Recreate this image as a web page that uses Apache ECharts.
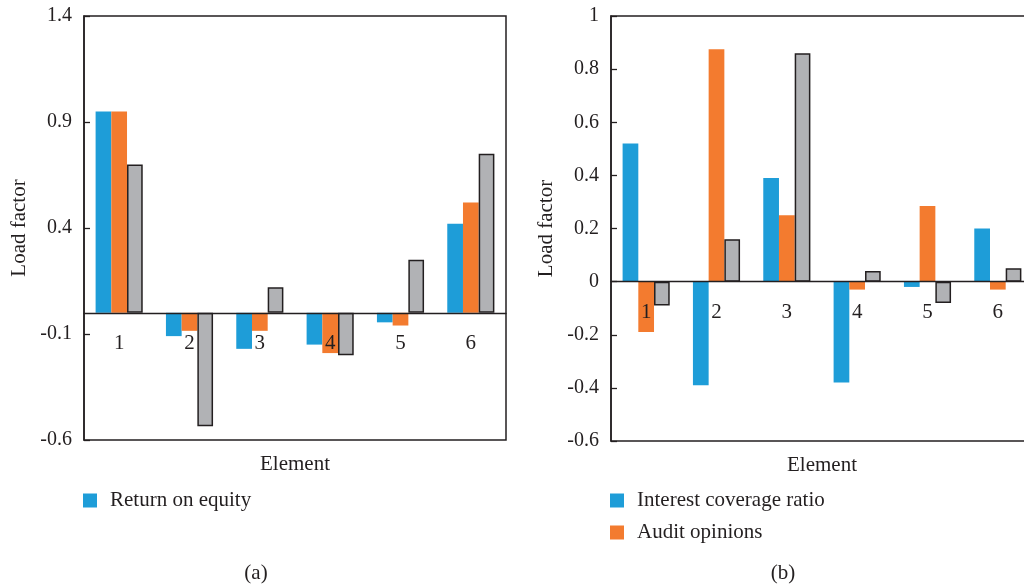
<!DOCTYPE html>
<html>
<head>
<meta charset="utf-8">
<script src="https://cdn.jsdelivr.net/npm/echarts@6/dist/echarts.min.js"></script>
<style>
html,body{margin:0;padding:0;background:#fff;}
#c{width:1024px;height:588px;}
</style>
</head>
<body>
<div id="c"></div>
<script>
// ---- data ----
const categories = ['1', '2', '3', '4', '5', '6'];

// chart (a)
const aNames = ['Return on equity', 'Indicator 2', 'Indicator 3'];
const aSeries1 = [0.95, -0.11, -0.17, -0.15, -0.045, 0.42];
const aSeries2 = [0.95, -0.085, -0.085, -0.19, -0.06, 0.52];
const aSeries3 = [0.70, -0.535, 0.12, -0.20, 0.25, 0.75];
const aTickLabels = ['-0.6', '-0.1', '0.4', '0.9', '1.4'];

// chart (b)
const bNames = ['Interest coverage ratio', 'Audit opinions', 'Indicator 3'];
const bSeries1 = [0.52, -0.39, 0.39, -0.38, -0.02, 0.20];
const bSeries2 = [-0.19, 0.875, 0.25, -0.03, 0.285, -0.03];
const bSeries3 = [-0.09, 0.16, 0.86, 0.04, -0.08, 0.05];
const bTickLabels = ['-0.6', '-0.4', '-0.2', '0', '0.2', '0.4', '0.6', '0.8', '1'];

// ---- style ----
const FONT = 'Liberation Serif';
const INK = '#231f20';
const BLUE = '#1e9dd8';
const ORANGE = '#f37b2f';
const GRAY = '#b1b2b5';

// grid geometry
const GA = {left: 84, top: 16, width: 422, height: 424};
const GB = {left: 611, top: 16, width: 422, height: 425};
const aMin = -0.6, aMax = 1.4, bMin = -0.6, bMax = 1;
// move the category axis up to the zero line
const aZeroOffset = -GA.height * (0 - aMin) / (aMax - aMin);
const bZeroOffset = -GB.height * (0 - bMin) / (bMax - bMin);

function barSeries(name, data, color, axisIdx, border) {
  return {
    type: 'bar', name: name, data: data,
    xAxisIndex: axisIdx, yAxisIndex: axisIdx === 0 ? 0 : 2,
    barGap: '0%', barCategoryGap: '33%',
    itemStyle: border ? {color: color, borderColor: INK, borderWidth: 1.5} : {color: color},
    emphasis: {disabled: true}
  };
}

const chart = echarts.init(document.getElementById('c'), null, {renderer: 'canvas'});
const axisText = {fontFamily: FONT, fontSize: 20, color: INK};

function catAxis(gi, offset, nameGap) {
  return {
    type: 'category', gridIndex: gi, data: categories, z: 10, position: 'bottom', offset: offset,
    axisLine: {onZero: false, lineStyle: {color: INK, width: 1.3}},
    axisTick: {inside: true, length: 7, lineStyle: {color: INK, width: 1.3}},
    axisLabel: {margin: 20, fontSize: 21, fontFamily: FONT, color: INK},
    name: 'Element', nameLocation: 'middle', nameGap: nameGap,
    nameTextStyle: {fontFamily: FONT, fontSize: 21, color: INK},
    splitLine: {show: false}
  };
}

chart.setOption({
  animation: false,
  textStyle: {fontFamily: FONT, color: INK},
  grid: [
    Object.assign({show: true, borderColor: INK, borderWidth: 1.5, containLabel: false, outerBoundsMode: 'none'}, GA),
    Object.assign({show: true, borderColor: INK, borderWidth: 1.5, containLabel: false, outerBoundsMode: 'none'}, GB)
  ],
  legend: [
    {data: [aNames[0]], left: 83, top: 490, padding: 0, icon: 'rect', itemWidth: 14, itemHeight: 14,
     textStyle: {fontFamily: FONT, fontSize: 21, color: INK, padding: [0, 0, 0, 8]}},
    {data: [bNames[0], bNames[1]], left: 610, top: 490, padding: 0, orient: 'vertical', icon: 'rect', itemWidth: 14, itemHeight: 14, itemGap: 11,
     textStyle: {fontFamily: FONT, fontSize: 21, color: INK, padding: [0, 0, 0, 8]}}
  ],
  xAxis: [
    catAxis(0, aZeroOffset, 141),
    catAxis(1, bZeroOffset, 173)
  ],
  yAxis: [
    // 0: data axis for (a)
    {type: 'value', gridIndex: 0, min: aMin, max: aMax, show: false},
    // 1: label axis for (a), shifted by 0.6 so the ticks land on the labels
    {type: 'value', gridIndex: 0, min: 0, max: 2, interval: 0.5, position: 'left', z: 10,
     axisLine: {show: true, onZero: false, lineStyle: {color: INK, width: 1.5}},
     axisTick: {show: true, inside: true, length: 6, lineStyle: {color: INK, width: 1.3}},
     axisLabel: Object.assign({margin: 12, formatter: v => aTickLabels[Math.round(v / 0.5)]}, axisText),
     splitLine: {show: false},
     name: 'Load factor', nameLocation: 'middle', nameGap: 54,
     nameTextStyle: {fontFamily: FONT, fontSize: 21, color: INK}},
    // 2: data + label axis for (b)
    {type: 'value', gridIndex: 1, min: bMin, max: bMax, interval: 0.2, position: 'left', z: 10,
     axisLine: {show: true, onZero: false, lineStyle: {color: INK, width: 1.5}},
     axisTick: {show: true, inside: true, length: 6, lineStyle: {color: INK, width: 1.3}},
     axisLabel: Object.assign({margin: 12, formatter: v => bTickLabels[Math.round((v - bMin) / 0.2)]}, axisText),
     splitLine: {show: false},
     name: 'Load factor', nameLocation: 'middle', nameGap: 54,
     nameTextStyle: {fontFamily: FONT, fontSize: 21, color: INK}}
  ],
  series: [
    barSeries(aNames[0], aSeries1, BLUE, 0, false),
    barSeries(aNames[1], aSeries2, ORANGE, 0, false),
    barSeries(aNames[2], aSeries3, GRAY, 0, true),
    barSeries(bNames[0], bSeries1, BLUE, 1, false),
    barSeries(bNames[1], bSeries2, ORANGE, 1, false),
    barSeries(bNames[2], bSeries3, GRAY, 1, true)
  ],
  graphic: [
    {type: 'text', x: 256, y: 573, style: {text: '(a)', fontFamily: FONT, fontSize: 21, fill: INK, align: 'center', verticalAlign: 'middle'}},
    {type: 'text', x: 783, y: 573, style: {text: '(b)', fontFamily: FONT, fontSize: 21, fill: INK, align: 'center', verticalAlign: 'middle'}}
  ]
});
</script>
</body>
</html>
